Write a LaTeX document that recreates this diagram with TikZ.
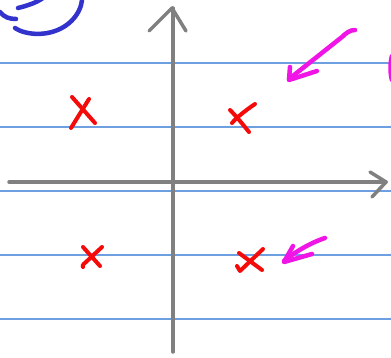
\documentclass[tikz,border=0pt]{standalone}
\definecolor{ruleblue}{RGB}{110,160,225}
\definecolor{axisgray}{RGB}{128,128,128}
\definecolor{xred}{RGB}{245,10,10}
\definecolor{pinkpen}{RGB}{240,20,230}
\definecolor{bluepen}{RGB}{50,50,205}
\tikzset{
  rule/.style={draw=ruleblue, line width=1.2pt},
  axisline/.style={draw=axisgray, line width=3.5pt, line cap=round, line join=round},
  xmark/.style={draw=xred, line width=4pt, line cap=round, line join=round},
  pinkstroke/.style={draw=pinkpen, line width=4.5pt, line cap=round, line join=round},
  bluestroke/.style={draw=bluepen, line width=4.5pt, line cap=round, line join=round},
}
\begin{document}
\begin{tikzpicture}[x=1pt,y=-1pt]
\useasboundingbox[fill=white] (0,0) rectangle (391,358);
% ruled lines
\foreach \yy in {63,127,191,255,319}
  \draw[rule] (0,\yy) -- (391,\yy);
% blue circle fragment
\draw[bluestroke] (0,12) .. controls (4,17) and (9,19) .. (16,19);
\draw[bluestroke] (18,8) .. controls (26,6) and (36,3) .. (43,-2);
\draw[bluestroke] (15,28) .. controls (25,35) and (50,38) .. (68,24) .. controls (78,16) and (82,6) .. (82,-2);
% axes
\draw[axisline] (173,352) -- (173,8);
\draw[axisline] (149,31) -- (172,8) -- (186,31);
\draw[axisline] (9,182) -- (386,182);
\draw[axisline] (370,172) -- (386,182) -- (372,197);
% red crosses
\draw[xmark] (72,97) -- (95,123);
\draw[xmark] (89,99) -- (71,128);
\draw[xmark] (230,110) .. controls (238,118) and (244,126) .. (249,132);
\draw[xmark] (255,104) .. controls (246,110) and (236,118) .. (232,123);
\draw[xmark] (83,247) -- (100,266);
\draw[xmark] (102,247) -- (86,262) .. controls (82,265) and (82,267) .. (83,267);
\draw[xmark] (239,253) -- (262,270);
\draw[xmark] (263,249) -- (240,271) -- (237,266);
% magenta arrows
\draw[pinkstroke] (355,30) .. controls (350,30) and (346,33) .. (342,37) -- (289,79);
\draw[pinkstroke] (290,67) -- (289,80) -- (317,71);
\draw[pinkstroke] (325,238) .. controls (310,243) and (295,252) .. (284,261);
\draw[pinkstroke] (293,246) -- (284,262) -- (312,254);
% partial magenta mark at right edge
\draw[pinkstroke] (392,56) .. controls (390,62) and (390,74) .. (392,80);
\end{tikzpicture}
\end{document}
